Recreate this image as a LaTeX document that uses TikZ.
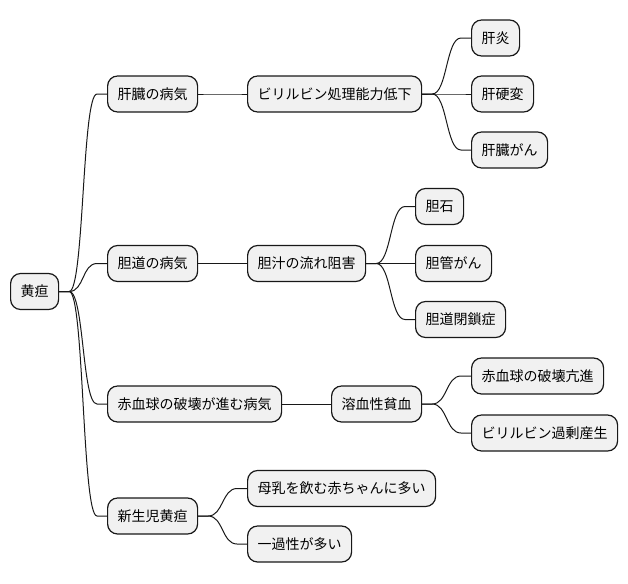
\documentclass[tikz,border=0pt]{standalone}
\usepackage{fontspec}
\setmainfont{Noto Sans CJK JP}
\usepackage{tikz}
\usepackage{xcolor}
\definecolor{boxfill}{HTML}{F1F1F1}
\definecolor{ink}{HTML}{181818}

\begin{document}
\begin{tikzpicture}
		[x=0.75pt,y=-0.75pt,
		box/.style={draw=ink, line width=0.9pt, fill=boxfill, rounded corners=7.5pt, anchor=west, minimum height=27pt, inner xsep=7.5pt, inner ysep=0pt, font=\fontsize{10.5pt}{12pt}\selectfont},
		link/.style={draw=ink, line width=0.75pt, to path={-- ++(10,0) .. controls +(15,0) and +(-15,0) .. ([xshift=-7.5pt]\tikztotarget) -- (\tikztotarget)}}]
		\useasboundingbox (0,0) rectangle (628,583);
		\node[box] (root) at (10,291.5) {黄疸};
		\node[box] (liver) at (107,94) {肝臓の病気};
		\node[box] (bile) at (107,263.5) {胆道の病気};
		\node[box] (rbc) at (107,404) {赤血球の破壊が進む病気};
		\node[box] (neo) at (107,516) {新生児黄疸};
		\node[box] (bilproc) at (247,94) {ビリルビン処理能力低下};
		\node[box] (flow) at (247,263.5) {胆汁の流れ阻害};
		\node[box] (hemo) at (331,404) {溶血性貧血};
		\node[box] (milk) at (247,488.5) {母乳を飲む赤ちゃんに多い};
		\node[box] (trans) at (247,544) {一過性が多い};
		\node[box] (hep) at (471,38) {肝炎};
		\node[box] (cirr) at (471,94) {肝硬変};
		\node[box] (hcc) at (471,150) {肝臓がん};
		\node[box] (stone) at (415,206.5) {胆石};
		\node[box] (ductca) at (415,263.5) {胆管がん};
		\node[box] (atresia) at (415,319.5) {胆道閉鎖症};
		\node[box] (destr) at (471,376) {赤血球の破壊亢進};
		\node[box] (overprod) at (471,433) {ビリルビン過剰産生};
		\foreach \a/\b in {root/liver, root/bile, root/rbc, root/neo,
			liver/bilproc, bile/flow, rbc/hemo, neo/milk, neo/trans,
			bilproc/hep, bilproc/cirr, bilproc/hcc,
			flow/stone, flow/ductca, flow/atresia,
			hemo/destr, hemo/overprod}
		{
			\draw[link] (\a.east) to (\b.west);
		}
	\end{tikzpicture}
\end{document}
